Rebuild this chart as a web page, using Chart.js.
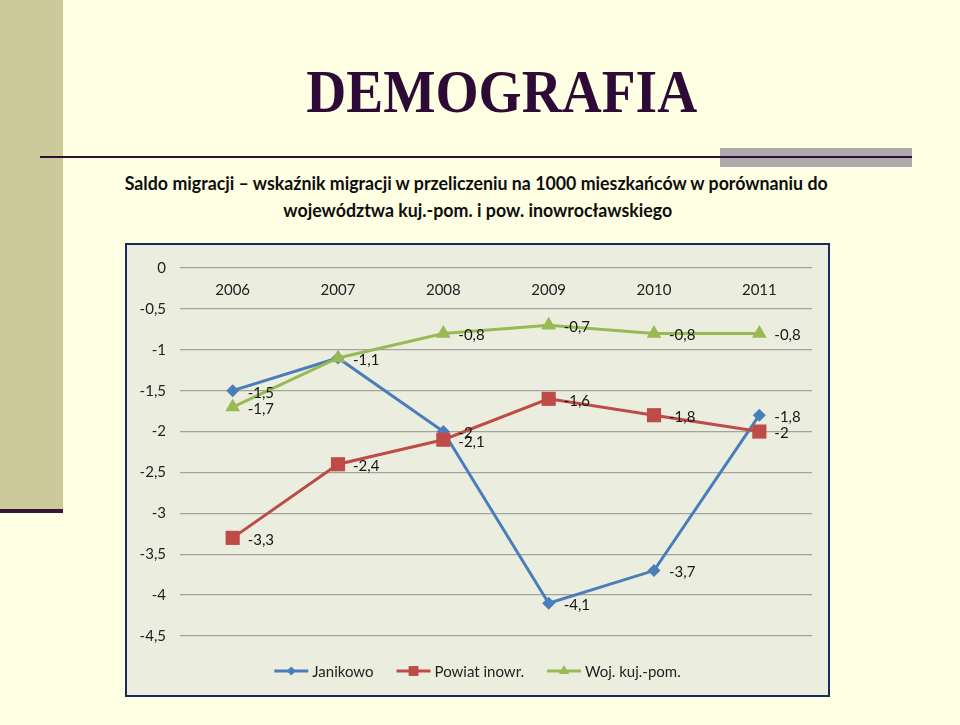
<!DOCTYPE html>
<html lang="pl">
<head>
<meta charset="utf-8">
<script src="https://cdn.jsdelivr.net/npm/chart.js@4.4.1/dist/chart.umd.min.js"></script>
<style>
  body { margin: 0; width: 960px; height: 725px; background: #FFFFE3; position: relative; overflow: hidden; }
  .abs { position: absolute; }
  .fit { white-space: nowrap; transform-origin: center top; }
  #title { font-family: "Liberation Serif", serif; font-weight: bold; font-size: 62px; line-height: 62px; color: #2D0B36; }
  .sub { font-family: Lato, "Noto Sans", sans-serif; font-weight: bold; font-size: 18px; line-height: 18px; color: #0E0E0E; }
  #box { left: 125px; top: 243px; width: 701px; height: 450px; border: 2px solid #1B2A5C; background: #EBEEDF; }
</style>
</head>
<body>
<div class="abs" style="left:0;top:0;width:63px;height:509px;background:#CCC99B"></div>
<div class="abs" style="left:0;top:509px;width:63px;height:4px;background:#3B1535"></div>
<div class="abs" style="left:720px;top:148px;width:192px;height:19px;background:#ADA9AD"></div>
<div class="abs" style="left:40px;top:156px;width:872px;height:2px;background:#2E0F35"></div>

<div id="title" class="abs fit" data-cx="502" data-w="391" style="top:60px">DEMOGRAFIA</div>
<div id="sub1" class="abs fit sub" data-cx="476.5" data-w="703" style="top:174px">Saldo migracji – wskaźnik migracji w przeliczeniu na 1000 mieszkańców w porównaniu do</div>
<div id="sub2" class="abs fit sub" data-cx="477.5" data-w="389" style="top:201px">województwa kuj.-pom. i pow. inowrocławskiego</div>

<div id="box" class="abs">
  <canvas id="chart" width="701" height="450"></canvas>
</div>

<script>
// data
const years = ['2006', '2007', '2008', '2009', '2010', '2011'];
const janikowo = [-1.5, -1.1, -2, -4.1, -3.7, -1.8];
const powiat = [-3.3, -2.4, -2.1, -1.6, -1.8, -2];
const wojewodztwo = [-1.7, -1.1, -0.8, -0.7, -0.8, -0.8];
const seriesNames = ['Janikowo', 'Powiat inowr.', 'Woj. kuj.-pom.'];

const fmt = v => String(v).replace('.', ',');

// squeeze the slide texts to the widths seen in the picture
document.querySelectorAll('.fit').forEach(el => {
    const w = el.getBoundingClientRect().width;
    const target = parseFloat(el.dataset.w);
    const cx = parseFloat(el.dataset.cx);
    el.style.left = (cx - w / 2) + 'px';
    el.style.transform = 'scaleX(' + (target / w) + ')';
});

const labelFont = '15px Lato, "Noto Sans", sans-serif';

const pointLabels = {
    id: 'pointLabels',
    afterDatasetsDraw(chart) {
        const ctx = chart.ctx;
        const seen = {};
        ctx.save();
        ctx.font = labelFont;
        ctx.fillStyle = '#161616';
        ctx.textAlign = 'left';
        ctx.textBaseline = 'middle';
        chart.data.datasets.forEach((ds, i) => {
            chart.getDatasetMeta(i).data.forEach((pt, j) => {
                const txt = fmt(ds.data[j]);
                const key = j + ':' + txt;
                if (seen[key]) return;
                seen[key] = true;
                ctx.fillText(txt, pt.x + 15, pt.y + 2);
            });
        });
        ctx.restore();
    }
};

const customLegend = {
    id: 'customLegend',
    afterDraw(chart) {
        const ctx = chart.ctx;
        const y = chart.chartArea.bottom + 35;
        ctx.save();
        ctx.font = labelFont;
        const lineLen = 34, gap = 4, spacing = 23;
        const items = chart.data.datasets.map(ds => ({ ds, w: ctx.measureText(ds.label).width }));
        const total = items.reduce((s, it) => s + lineLen + gap + it.w, 0) + spacing * (items.length - 1);
        let x = chart.width / 2 - total / 2;
        items.forEach(it => {
            const ds = it.ds;
            ctx.strokeStyle = ds.borderColor;
            ctx.lineWidth = 3;
            ctx.beginPath();
            ctx.moveTo(x, y);
            ctx.lineTo(x + lineLen, y);
            ctx.stroke();
            ctx.fillStyle = ds.borderColor;
            Chart.helpers.drawPoint(ctx, {
                pointStyle: ds.pointStyle,
                radius: ds.pointRadius * 0.7,
                rotation: 0,
                borderWidth: 0
            }, x + lineLen / 2, y);
            ctx.fillStyle = '#222';
            ctx.textAlign = 'left';
            ctx.textBaseline = 'middle';
            ctx.fillText(ds.label, x + lineLen + gap, y + 1);
            x += lineLen + gap + it.w + spacing;
        });
        ctx.restore();
    }
};

const makeSet = (label, data, color, style, radius, order) => ({
    label,
    data,
    borderColor: color,
    backgroundColor: color,
    borderWidth: 3,
    pointStyle: style,
    pointRadius: radius,
    pointHoverRadius: radius,
    pointBorderWidth: 0,
    tension: 0,
    order
});

new Chart(document.getElementById('chart'), {
    type: 'line',
    data: {
        labels: years,
        datasets: [
            makeSet(seriesNames[0], janikowo, '#4A7EBB', 'rectRot', 6.5, 3),
            makeSet(seriesNames[1], powiat, '#BE4B48', 'rect', 10, 2),
            makeSet(seriesNames[2], wojewodztwo, '#98B954', 'triangle', 8.5, 1)
        ]
    },
    options: {
        responsive: false,
        animation: false,
        events: [],
        layout: { padding: { top: 20, right: 16, bottom: 59, left: 0 } },
        plugins: {
            legend: { display: false },
            tooltip: { enabled: false }
        },
        scales: {
            x: {
                position: { y: 0 },
                offset: true,
                grid: { display: false, drawTicks: false },
                border: { display: false },
                ticks: {
                    padding: 13,
                    color: '#222',
                    font: { family: 'Lato, "Noto Sans", sans-serif', size: 15 }
                }
            },
            y: {
                min: -4.5,
                max: 0,
                afterFit: scale => { scale.width = 53; },
                grid: { color: '#A3A49C', lineWidth: 1.3, drawTicks: false },
                border: { display: false },
                ticks: {
                    stepSize: 0.5,
                    padding: 14,
                    color: '#222',
                    font: { family: 'Lato, "Noto Sans", sans-serif', size: 15 },
                    callback: v => fmt(v)
                }
            }
        }
    },
    plugins: [pointLabels, customLegend]
});
</script>
</body>
</html>
